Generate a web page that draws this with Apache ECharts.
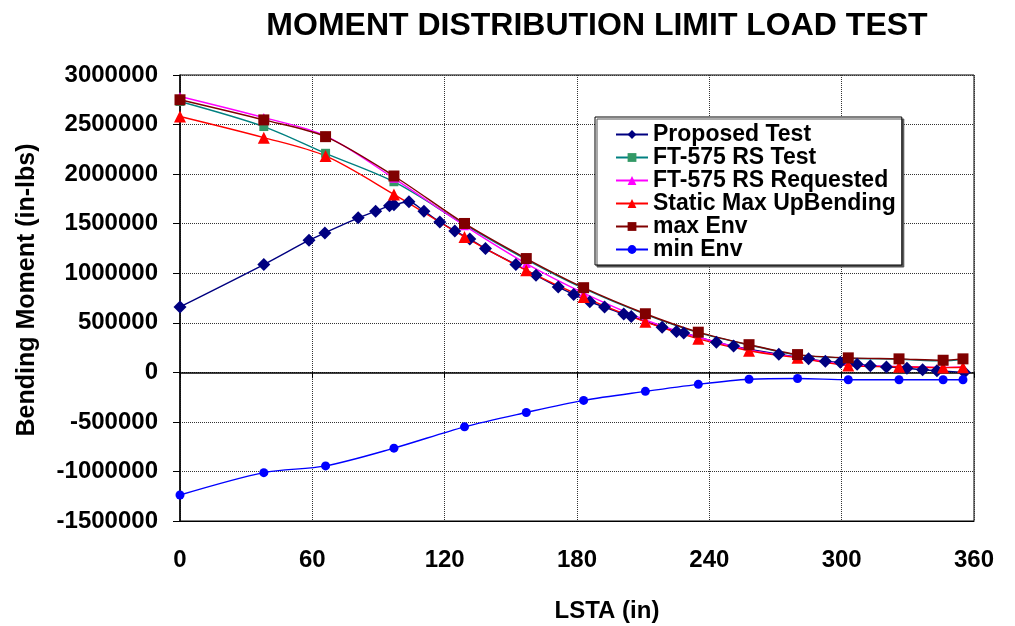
<!DOCTYPE html>
<html>
<head>
<meta charset="utf-8">
<title>Moment Distribution Limit Load Test</title>
<script src="https://cdn.jsdelivr.net/npm/echarts@6/dist/echarts.min.js"></script>
<style>
  html, body { margin: 0; padding: 0; background: #fff; }
  #chart { width: 1015px; height: 626px; }
</style>
</head>
<body>
<div id="chart"></div>
<script>
// station positions shared by the envelope / test curves (in)
const markerLsta = [0, 38, 66, 97, 129, 157, 183, 211, 235, 258, 280, 303, 326, 346, 355]
const ft575TestMoment = [2733000, 2480000, 2210000, 1923000, 1490000, 1138000, 846000, 585000, 400000, 276000, 176000, 142000, 132000, 116000, 132000]
const ft575RequestedMoment = [2783000, 2570000, 2385000, 1957000, 1480000, 1097000, 800000, 530000, 354000, 227000, 150000, 75000, 60000, 50000, 55000]
const staticMaxMoment = [2581000, 2368000, 2183000, 1795000, 1366000, 1029000, 759000, 510000, 338000, 218000, 146000, 68000, 56000, 48000, 51000]
const maxEnvMoment = [2750000, 2547000, 2378000, 1981000, 1502000, 1148000, 854000, 591000, 405000, 279000, 179000, 146000, 136000, 122000, 136000]
const minEnvMoment = [-1238000, -1012000, -944000, -765000, -550000, -405000, -283000, -192000, -121000, -70000, -62000, -75000, -75000, -75000, -75000]

// proposed test has its own stations
const proposedLsta = [0, 38, 58.5, 65.7, 80.8, 88.7, 95, 97, 103.8, 110.6, 117.8, 124.6, 131.4, 138.5, 152.3, 161.4, 171.5, 178.5, 185.8, 192.5, 201.2, 204.6, 218.6, 225.1, 228.4, 243.2, 251, 271.5, 285, 292.6, 299.4, 307, 313, 320.3, 329.6, 336.7, 343.2, 355.6]
const proposedMoment = [660000, 1087000, 1333000, 1407000, 1559000, 1626000, 1680000, 1690000, 1721000, 1626000, 1518000, 1427000, 1345000, 1249000, 1087000, 979000, 860000, 786000, 712000, 658000, 588000, 564000, 455000, 412000, 397000, 304000, 265000, 183000, 136000, 111000, 101000, 82000, 67000, 55000, 40000, 26000, 17000, 0]

const xTicks = [0, 60, 120, 180, 240, 300, 360]
const yTicks = [-1500000, -1000000, -500000, 0, 500000, 1000000, 1500000, 2000000, 2500000, 3000000]

const FONT = '"Liberation Sans", Arial, sans-serif'

const pairs = (xs, ys) => xs.map((x, i) => [x, ys[i]])

const makeSeries = (name, xs, ys, symbol, size, lineColor, markColor) => ({
  name: name,
  type: 'line',
  data: pairs(xs, ys),
  smooth: 0.3,
  symbol: symbol,
  symbolSize: size,
  showAllSymbol: true,
  lineStyle: { color: lineColor, width: 1.4 },
  itemStyle: { color: markColor },
  emphasis: { disabled: true },
  animation: false
})

const chart = echarts.init(document.getElementById('chart'))
chart.setOption({
  backgroundColor: '#fff',
  title: {
    text: 'MOMENT DISTRIBUTION LIMIT LOAD TEST',
    left: 592,
    textAlign: 'center',
    top: 5,
    textStyle: { fontFamily: FONT, fontSize: 32, fontWeight: 'bold', color: '#000' }
  },
  grid: {
    left: 180,
    right: 41,
    top: 75,
    bottom: 105,
    outerBoundsMode: 'none',
    show: true,
    borderColor: '#000',
    borderWidth: 1
  },
  legend: {
    orient: 'vertical',
    left: 595,
    top: 117,
    padding: [6, 6, 4, 20],
    itemWidth: 32,
    itemHeight: 11,
    itemGap: 0,
    backgroundColor: '#fff',
    borderColor: '#000',
    borderWidth: 1,
    shadowColor: '#555',
    shadowOffsetX: 2,
    shadowOffsetY: 2,
    shadowBlur: 0,
    textStyle: { fontFamily: FONT, fontSize: 23, fontWeight: 'bold', color: '#000', lineHeight: 22 },
    data: ['Proposed Test', 'FT-575 RS Test', 'FT-575 RS Requested', 'Static Max UpBending', 'max Env', 'min Env']
  },
  xAxis: [{
    type: 'value',
    min: xTicks[0],
    max: xTicks[xTicks.length - 1],
    interval: 60,
    position: 'bottom',
    name: 'LSTA (in)',
    nameLocation: 'middle',
    nameGap: 78,
    nameTextStyle: { fontFamily: FONT, fontSize: 24, fontWeight: 'bold', color: '#000', padding: [0, 0, 0, 60] },
    axisLine: { onZero: false, lineStyle: { color: '#000', width: 1 } },
    axisTick: { show: false },
    axisLabel: { margin: 27, fontFamily: FONT, fontSize: 24, fontWeight: 'bold', color: '#000' },
    splitLine: { show: true, lineStyle: { color: '#333', type: 'dotted', width: 1 } }
  }, {
    // zero line crossing the plot, like the original x axis
    type: 'value',
    min: xTicks[0],
    max: xTicks[xTicks.length - 1],
    interval: 60,
    position: 'bottom',
    axisLine: { onZero: true, lineStyle: { color: '#000', width: 1.5 } },
    axisTick: { show: true, length: 6, lineStyle: { color: '#000', width: 1 } },
    axisLabel: { show: false },
    splitLine: { show: false }
  }],
  yAxis: {
    type: 'value',
    min: yTicks[0],
    max: yTicks[yTicks.length - 1],
    interval: 500000,
    name: 'Bending Moment (in-lbs)',
    nameLocation: 'middle',
    nameGap: 140,
    nameTextStyle: { fontFamily: FONT, fontSize: 25, fontWeight: 'bold', color: '#000', padding: [0, 0, 0, 16] },
    axisLine: { show: true, lineStyle: { color: '#000', width: 1.5 } },
    axisTick: { show: true, length: 7, lineStyle: { color: '#000', width: 1 } },
    axisLabel: { margin: 22, fontFamily: FONT, fontSize: 24, fontWeight: 'bold', color: '#000', formatter: v => String(v) },
    splitLine: { show: true, lineStyle: { color: '#333', type: 'dotted', width: 1 } }
  },
  series: [
    makeSeries('Proposed Test', proposedLsta, proposedMoment, 'diamond', 13, '#000080', '#000080'),
    makeSeries('FT-575 RS Test', markerLsta, ft575TestMoment, 'rect', 9, '#008080', '#339966'),
    makeSeries('FT-575 RS Requested', markerLsta, ft575RequestedMoment, 'triangle', 9, '#FF00FF', '#FF00FF'),
    makeSeries('Static Max UpBending', markerLsta, staticMaxMoment, 'triangle', 12, '#FF0000', '#FF0000'),
    makeSeries('max Env', markerLsta, maxEnvMoment, 'rect', 11, '#800000', '#800000'),
    makeSeries('min Env', markerLsta, minEnvMoment, 'circle', 9, '#0000FF', '#0000FF')
  ]
})
</script>
</body>
</html>
